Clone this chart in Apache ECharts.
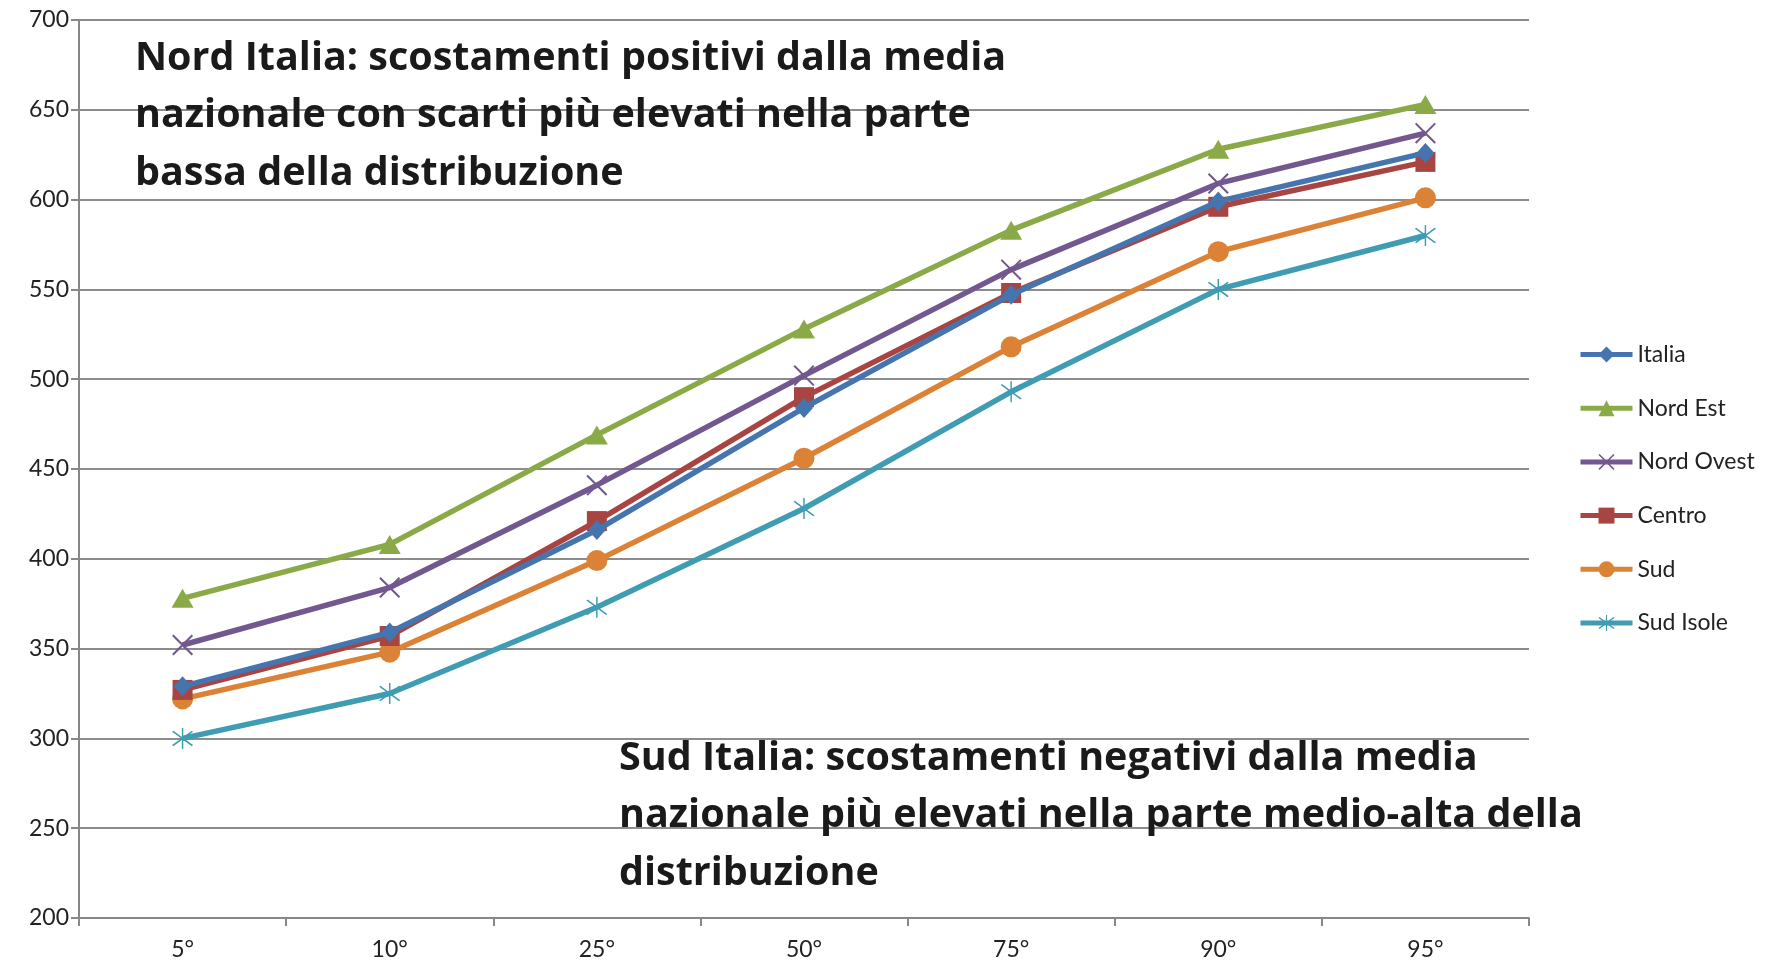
<!DOCTYPE html>
<html>
<head>
<meta charset="utf-8">
<script src="https://cdn.jsdelivr.net/npm/echarts@6/dist/echarts.min.js"></script>
<style>
html,body{margin:0;padding:0;background:#fff;}
#chart{width:1765px;height:966px;}
</style>
</head>
<body>
<div id="chart"></div>
<script>
// ---- data ----
var categories = ['5°', '10°', '25°', '50°', '75°', '90°', '95°'];
var italia    = [329, 359, 416, 484, 547, 599, 626];
var nordEst   = [378, 408, 469, 528, 583, 628, 653];
var nordOvest = [352, 384, 441, 502, 561, 609, 637];
var centro    = [327, 357, 421, 490, 548, 596, 621];
var sud       = [322, 348, 399, 456, 518, 571, 601];
var sudIsole  = [300, 325, 373, 428, 493, 550, 580];
var seriesNames = ['Italia', 'Nord Est', 'Nord Ovest', 'Centro', 'Sud', 'Sud Isole'];
var yTicks = [200, 250, 300, 350, 400, 450, 500, 550, 600, 650, 700];
var noteNord = ['Nord Italia: scostamenti positivi dalla media',
                'nazionale con scarti più elevati nella parte',
                'bassa della distribuzione'];
var noteSud = ['Sud Italia: scostamenti negativi dalla media',
               'nazionale più elevati nella parte medio-alta della',
               'distribuzione'];

// ---- styles ----
var colors = ['#4574AE', '#8AAA48', '#72588F', '#A84441', '#DC8236', '#3F9CB3'];
var xPath = 'path://M0,1.4 L1.4,0 L20,18.6 L18.6,20 Z M18.6,0 L20,1.4 L1.4,20 L0,18.6 Z';
var starPath = 'path://M9.3,0 L10.7,0 L10.7,20 L9.3,20 Z M0,3.6 L1.2,2.6 L20,16.4 L18.8,17.4 Z M18.8,2.6 L20,3.6 L1.2,17.4 L0,16.4 Z';
var symbols = ['diamond', 'triangle', xPath, 'rect', 'circle', starPath];
var symbolSizes = [[18, 20], [22, 19], 21, 20, 21, 21];
var dataSets = [italia, nordEst, nordOvest, centro, sud, sudIsole];
var FONT = 'Lato, "Open Sans", sans-serif';
var NOTEFONT = '"Open Sans", Lato, sans-serif';

var series = dataSets.map(function (d, i) {
  return {
    name: seriesNames[i],
    type: 'line',
    data: d,
    symbol: symbols[i],
    symbolSize: symbolSizes[i],
    showAllSymbol: true,
    lineStyle: { color: colors[i], width: 5.5 },
    itemStyle: { color: colors[i] },
    emphasis: { disabled: true },
    animation: false,
    z: 10 - i
  };
});

var chart = echarts.init(document.getElementById('chart'), null, { renderer: 'canvas' });
chart.setOption({
  animation: false,
  grid: { left: 79, right: 236, top: 20, bottom: 48, containLabel: false },
  xAxis: {
    type: 'category',
    data: categories,
    boundaryGap: true,
    axisLine: { lineStyle: { color: '#878787', width: 2 } },
    axisTick: { show: true, length: 8, lineStyle: { color: '#878787', width: 2 }, alignWithLabel: false },
    axisLabel: { color: '#222', fontFamily: FONT, fontSize: 23, margin: 20 },
    splitLine: { show: false }
  },
  yAxis: {
    type: 'value',
    min: yTicks[0],
    max: yTicks[yTicks.length - 1],
    interval: yTicks[1] - yTicks[0],
    axisLine: { show: true, lineStyle: { color: '#878787', width: 2 } },
    axisTick: { show: true, length: 8, lineStyle: { color: '#878787', width: 2 } },
    axisLabel: { color: '#222', fontFamily: FONT, fontSize: 23, margin: 10 },
    splitLine: { show: true, lineStyle: { color: '#8C8C8C', width: 2 } }
  },
  legend: {
    orient: 'vertical',
    left: 1578,
    top: 343,
    padding: 0,
    itemWidth: 52,
    itemHeight: 20,
    itemGap: 30.7,
    data: seriesNames,
    lineStyle: { width: 5 },
    textStyle: { color: '#222', fontFamily: FONT, fontSize: 23, lineHeight: 20 },
    selectedMode: false
  },
  graphic: [
    {
      type: 'text', left: 135, top: 29.5,
      style: { text: noteNord.join('\n'), font: 'bold 39.5px ' + NOTEFONT, fill: '#1a1a1a', lineHeight: 57.5 },
      z: 100
    },
    {
      type: 'text', left: 619, top: 729.5,
      style: { text: noteSud.join('\n'), font: 'bold 39.5px ' + NOTEFONT, fill: '#1a1a1a', lineHeight: 57.5 },
      z: 100
    }
  ],
  series: series
});
</script>
</body>
</html>
